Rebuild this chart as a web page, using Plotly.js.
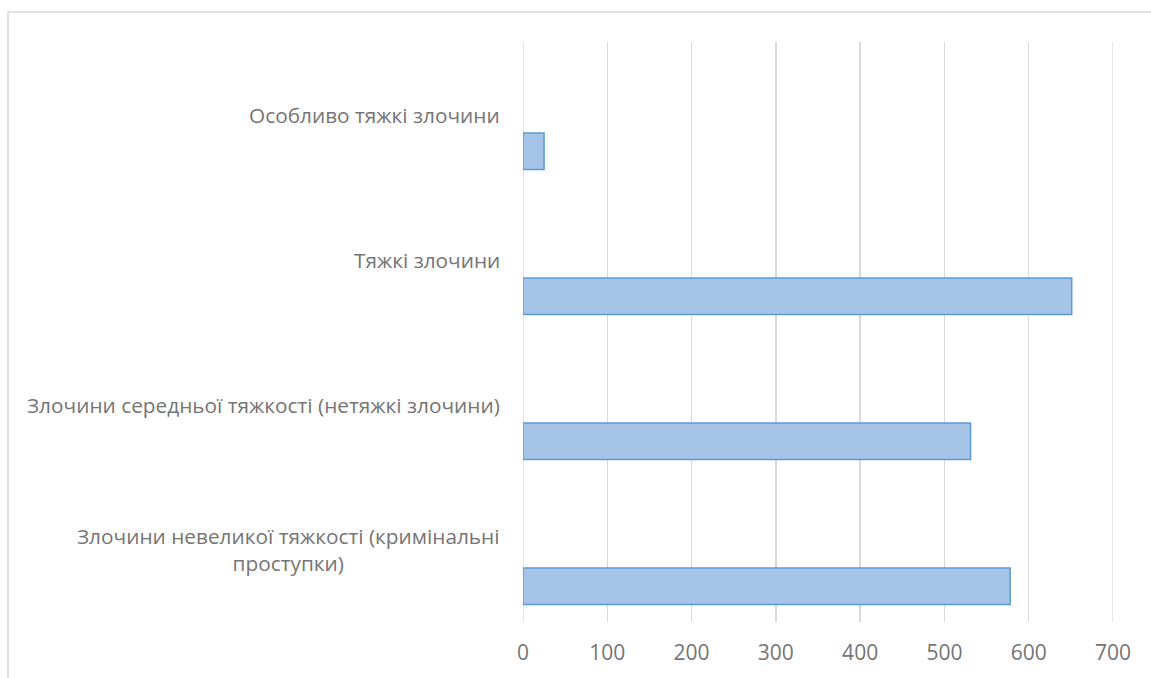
<!DOCTYPE html>
<html>
<head>
<meta charset="utf-8">
<script src="https://cdn.plot.ly/plotly-3.0.1.min.js"></script>
<style>
  html, body { margin: 0; padding: 0; background: #ffffff; }
  #chart { width: 1151px; height: 678px; }
</style>
</head>
<body>
<div id="chart"></div>
<script>
// Data
var categories = [
  "Особливо тяжкі злочини",
  "Тяжкі злочини",
  "Злочини середньої тяжкості (нетяжкі злочини)",
  "Злочини невеликої тяжкості (кримінальні<br>проступки)"
];
var values = [25, 651, 531, 578];
var xTickValues = [0, 100, 200, 300, 400, 500, 600, 700];

var textColor = "#757575";
var gridColor = "#d9d9d9";
var fontFamily = "'Open Sans', 'Liberation Sans', sans-serif";

var trace = {
  type: "bar",
  orientation: "h",
  y: categories,
  x: values,
  width: 0.252,
  offset: 0.128,
  marker: {
    color: "#a6c4e8",
    line: { color: "#5b9bd5", width: 1.5 }
  },
  hoverinfo: "x+y",
  showlegend: false
};

var annotations = categories.map(function (c) {
  return {
    xref: "paper", yref: "y",
    x: 0, y: c,
    xanchor: "right", yanchor: "middle",
    xshift: -21,
    text: c,
    align: "center",
    showarrow: false,
    font: { family: fontFamily, size: 20.8, color: textColor }
  };
});

var xMin = xTickValues[0];
var xMax = xTickValues[xTickValues.length - 1];

// grid lines at the two range edges (Plotly skips those)
var edgeLines = [xMin, xMax].map(function (v) {
  return {
    type: "line", xref: "x", yref: "paper",
    x0: v, x1: v, y0: 0, y1: 1,
    line: { color: gridColor, width: 1.3 },
    layer: "below"
  };
});

var layout = {
  width: 1151,
  height: 678,
  margin: { l: 523, r: 38, t: 42, b: 56 },
  paper_bgcolor: "#ffffff",
  plot_bgcolor: "#ffffff",
  font: { family: fontFamily, color: textColor },
  xaxis: {
    range: [xMin, xMax],
    tickvals: xTickValues,
    ticktext: xTickValues.map(String),
    showgrid: true,
    gridcolor: gridColor,
    gridwidth: 1.3,
    zeroline: false,
    showline: false,
    ticks: "",
    ticklabelstandoff: 16,
    tickfont: { family: fontFamily, size: 21, color: textColor },
    fixedrange: true
  },
  yaxis: {
    type: "category",
    range: [3.5, -0.5],
    showticklabels: false,
    showgrid: false,
    zeroline: false,
    showline: false,
    ticks: "",
    fixedrange: true
  },
  annotations: annotations,
  shapes: [{
    type: "rect",
    xref: "paper", yref: "paper",
    x0: (8 - 523) / 590, x1: (1170 - 523) / 590,
    y0: -(700 - 622) / 580, y1: 1 + (42 - 12) / 580,
    line: { color: gridColor, width: 1.5 },
    fillcolor: "rgba(0,0,0,0)",
    layer: "below"
  }].concat(edgeLines)
};

Plotly.newPlot("chart", [trace], layout, { displayModeBar: false, staticPlot: true });
</script>
</body>
</html>
